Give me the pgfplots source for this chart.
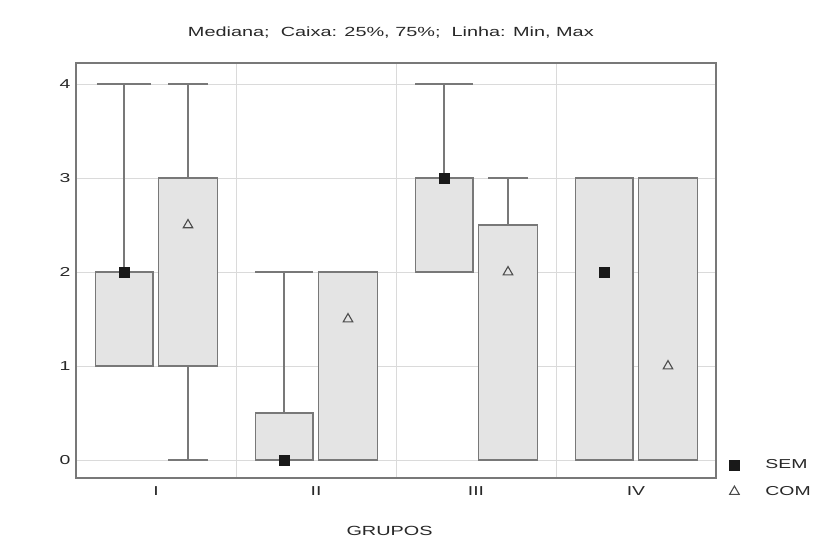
\documentclass[border=0pt]{standalone}
\usepackage{pgfplots}
\pgfplotsset{compat=1.18}
\usepgfplotslibrary{statistics}
\usepackage{fontspec}
\newfontfamily\chartfont[FakeStretch=1.5]{Liberation Sans}
\definecolor{boxfill}{RGB}{228,228,228}
\definecolor{boxline}{RGB}{120,120,120}
\definecolor{whiskc}{RGB}{140,140,140}
\definecolor{gridc}{RGB}{218,218,218}
\definecolor{framec}{RGB}{120,120,120}
\definecolor{textc}{RGB}{40,40,40}
\begin{document}
\begin{tikzpicture}
\path[use as bounding box] (0,0) rectangle (839bp,545bp);
\begin{axis}[
  at={(76bp,67bp)}, anchor=south west,
  width=640bp, height=415bp, scale only axis,
  xmin=0.5, xmax=4.5, ymin=-0.19, ymax=4.223,
  xtick={1,2,3,4}, xticklabels={I,II,III,IV},
  minor xtick={1.5,2.5,3.5},
  ytick={0,1,2,3,4},
  ymajorgrids, xminorgrids,
  grid style={gridc, line width=0.8bp},
  minor grid style={gridc, line width=0.8bp},
  axis line style={framec, line width=1.5bp},
  major tick length=0bp, minor tick length=0bp,
  ytick style={draw=none}, xtick style={draw=none},
  tick label style={font=\chartfont\fontsize{13}{15}\selectfont, text=textc},
  /pgf/number format/assume math mode=true,
  xticklabel style={yshift=-5bp},
  yticklabel style={xshift=-2bp},
  xlabel={GRUPOS},
  xlabel style={at={(axis description cs:0.49,-0.128)}, anchor=center, font=\chartfont\fontsize{13.3}{15}\selectfont, text=textc},
  title={Mediana;\ \ Caixa: 25\%, 75\%;\ \ Linha: Min, Max},
  title style={at={(axis description cs:0.492,1.06)}, anchor=center, font=\chartfont\fontsize{13.3}{15}\selectfont, text=textc},
  boxplot/draw direction=y,
  boxplot/draw/median/.code={},
  legend style={at={(axis description cs:1.016,0.054)}, anchor=north west, draw=none, fill=none,
    font=\chartfont\fontsize{13}{15}\selectfont, row sep=12bp, text=textc},
  legend cell align=left,
]
% SEM boxes
\addplot[draw=boxline, fill=boxfill, line width=1.4bp, forget plot, boxplot prepared={draw position=0.8, lower whisker=1, lower quartile=1, median=2, upper quartile=2, upper whisker=4, box extend=0.36, whisker extend=0.34}] coordinates {};
\addplot[draw=boxline, fill=boxfill, line width=1.4bp, forget plot, boxplot prepared={draw position=1.8, lower whisker=0, lower quartile=0, median=0, upper quartile=0.5, upper whisker=2, box extend=0.36, whisker extend=0.36}] coordinates {};
\addplot[draw=boxline, fill=boxfill, line width=1.4bp, forget plot, boxplot prepared={draw position=2.8, lower whisker=2, lower quartile=2, median=3, upper quartile=3, upper whisker=4, box extend=0.36, whisker extend=0.36}] coordinates {};
\addplot[draw=boxline, fill=boxfill, line width=1.4bp, forget plot, boxplot prepared={draw position=3.8, lower whisker=0, lower quartile=0, median=2, upper quartile=3, upper whisker=3, box extend=0.36, whisker extend=0.36}] coordinates {};
% COM boxes
\addplot[draw=boxline, fill=boxfill, line width=1.4bp, forget plot, boxplot prepared={draw position=1.2, lower whisker=0, lower quartile=1, median=2.5, upper quartile=3, upper whisker=4, box extend=0.37, whisker extend=0.25}] coordinates {};
\addplot[draw=boxline, fill=boxfill, line width=1.4bp, forget plot, boxplot prepared={draw position=2.2, lower whisker=0, lower quartile=0, median=1.5, upper quartile=2, upper whisker=2, box extend=0.37, whisker extend=0.25}] coordinates {};
\addplot[draw=boxline, fill=boxfill, line width=1.4bp, forget plot, boxplot prepared={draw position=3.2, lower whisker=0, lower quartile=0, median=2, upper quartile=2.5, upper whisker=3, box extend=0.37, whisker extend=0.25}] coordinates {};
\addplot[draw=boxline, fill=boxfill, line width=1.4bp, forget plot, boxplot prepared={draw position=4.2, lower whisker=0, lower quartile=0, median=1, upper quartile=3, upper whisker=3, box extend=0.37, whisker extend=0.25}] coordinates {};
% medians
\addplot[only marks, mark=square*, mark size=5bp, mark options={fill=black!90, draw=black!90}] coordinates {(0.8,2) (1.8,0) (2.8,3) (3.8,2)};
\addlegendentry{\hspace{24bp}SEM}
\addplot[only marks, mark=triangle, mark size=5.5bp, mark options={draw=black!70, line width=1.1bp}] coordinates {(1.2,2.5) (2.2,1.5) (3.2,2) (4.2,1)};
\addlegendentry{\hspace{24bp}COM}
\end{axis}
\end{tikzpicture}
\end{document}
